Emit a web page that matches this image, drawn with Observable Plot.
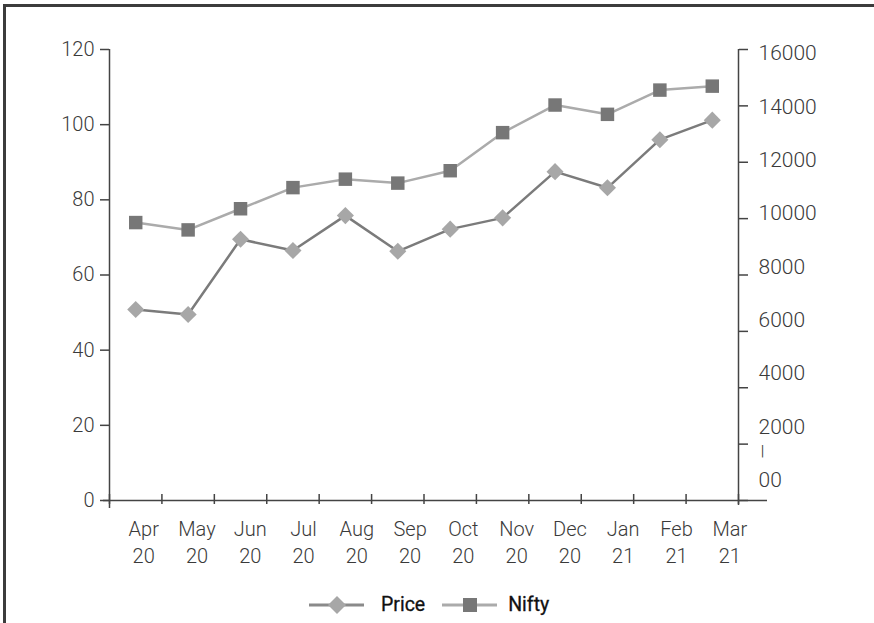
<!DOCTYPE html>
<html><head><meta charset="utf-8">
<script src="https://cdn.jsdelivr.net/npm/d3@7"></script>
<script src="https://cdn.jsdelivr.net/npm/@observablehq/plot@0.6"></script>
<style>
html,body{margin:0;padding:0;background:#fff;width:874px;height:623px;overflow:hidden;}
#frame{position:absolute;left:3px;top:4px;width:871px;height:619px;border-top:3px solid #3c3c3c;border-left:3px solid #3c3c3c;box-sizing:border-box;}
#chart{position:absolute;left:0;top:0;}
#legend{position:absolute;left:303px;top:586px;display:flex;align-items:center;font-family:Roboto,"Liberation Sans",sans-serif;font-weight:400;font-size:19.5px;color:#111;-webkit-text-stroke:0.3px #111;}
#legend .item{display:flex;align-items:center;}
#legend svg{display:block;}
</style>
</head><body>
<div id="frame"><div id="chart"></div><div id="legend"></div></div>
<script>
// ---- data ----
const months = ["Apr\n20","May\n20","Jun\n20","Jul\n20","Aug\n20","Sep\n20","Oct\n20","Nov\n20","Dec\n20","Jan\n21","Feb\n21","Mar\n21"];
const price = [50.8, 49.5, 69.5, 66.5, 75.8, 66.3, 72.2, 75.2, 87.5, 83.2, 96.0, 101.2];
const nifty = [9860, 9600, 10350, 11100, 11400, 11260, 11700, 13050, 14030, 13700, 14560, 14700];
const leftTicks = [0, 20, 40, 60, 80, 100, 120];
const rightTicks = [0, 2000, 4000, 6000, 8000, 10000, 12000, 14000, 16000];
const rightLabels = ["00", "2000", "4000", "6000", "8000", "10000", "12000", "14000", "16000"];
const seriesNames = ["Price", "Nifty"];

// ---- derived ----
const leftMax = 120, rightMax = 16000;
const k = leftMax / rightMax;
const priceData = price.map((v, i) => ({i, v}));
const niftyData = nifty.map((v, i) => ({i, v: v * k}));
const bounds = d3.range(months.length + 1).map(j => j - 0.5);

const axisColor = "#444";
const txt = {fontFamily: "Roboto", fontWeight: 300, fontSize: 20, fill: "#3a3a3a", label: null};

const rightLabelMarks = rightTicks.map((v, j) =>
  Plot.axisY([v * k], {anchor: "right", tickSize: 0, tickPadding: 20,
    tickFormat: () => rightLabels[j], dy: 4 - 3 * (rightTicks.length - 1 - j), ...txt, fontSize: 21}));

const xLabelMarks = months.map((m, i) =>
  Plot.axisX([i], {anchor: "bottom", tickSize: 0, tickPadding: 16,
    tickFormat: () => m, dx: 8 + 0.86 * i, lineHeight: 1.35, ...txt}));

const chart = Plot.plot({
  width: 868, height: 560,
  marginLeft: 103, marginRight: 136, marginTop: 42, marginBottom: 67,
  x: {type: "linear", domain: [-0.5, months.length - 0.5], label: null},
  y: {domain: [0, leftMax], label: null},
  style: {fontFamily: "Roboto", background: "transparent", color: "#444", overflow: "visible"},
  marks: [
    Plot.ruleY([0], {stroke: axisColor, strokeWidth: 1.5, insetLeft: -6, insetRight: -29}),
    Plot.ruleX([-0.5], {stroke: axisColor, strokeWidth: 1.5, insetBottom: -8}),
    Plot.ruleX([months.length - 0.5], {stroke: axisColor, strokeWidth: 1.5, insetBottom: -5}),
    Plot.axisY(leftTicks, {anchor: "left", tickSize: 9, tickPadding: 6, stroke: axisColor, strokeWidth: 1.5, ...txt}),
    Plot.axisY(rightTicks.map(v => v * k), {anchor: "right", tickSize: 9, stroke: axisColor, strokeWidth: 1.5, tickFormat: () => "", label: null}),
    ...rightLabelMarks,
    Plot.axisY([0], {anchor: "right", tickSize: 0, tickPadding: 22, tickFormat: () => "|", dy: -49, fontSize: 12, fontFamily: "DejaVu Sans", fill: "#444", label: null}),
    Plot.axisX(bounds, {anchor: "bottom", tickSize: 10, dy: -6, stroke: axisColor, strokeWidth: 1.5, tickFormat: () => "", label: null}),
    ...xLabelMarks,
    Plot.line(niftyData, {x: "i", y: "v", stroke: "#ababab", strokeWidth: 2.5}),
    Plot.dot(niftyData, {x: "i", y: "v", symbol: "square", r: 7.6, fill: "#777"}),
    Plot.line(priceData, {x: "i", y: "v", stroke: "#7b7b7b", strokeWidth: 2.5}),
    Plot.dot(priceData, {x: "i", y: "v", symbol: "diamond2", r: 7.7, fill: "#a7a7a7"})
  ]
});
document.getElementById("chart").appendChild(chart);

// ---- legend ----
const legend = document.getElementById("legend");
const legendSpec = [
  {name: seriesNames[0], line: "#8a8a8a", mark: "#a7a7a7", shape: "diamond", gap: 17},
  {name: seriesNames[1], line: "#ababab", mark: "#777", shape: "square", gap: 11}
];
legendSpec.forEach((s, idx) => {
  const item = document.createElement("div");
  item.className = "item";
  if (idx > 0) item.style.marginLeft = "17px";
  const shape = s.shape === "diamond"
    ? `<polygon points="28,2 37,11 28,20 19,11" fill="${s.mark}"/>`
    : `<rect x="21" y="4" width="14" height="14" fill="${s.mark}"/>`;
  item.innerHTML = `<svg width="55" height="22"><line x1="0" x2="55" y1="11" y2="11" stroke="${s.line}" stroke-width="3"/>${shape}</svg><span style="margin-left:${s.gap}px">${s.name}</span>`;
  legend.appendChild(item);
});
</script>
</body></html>
